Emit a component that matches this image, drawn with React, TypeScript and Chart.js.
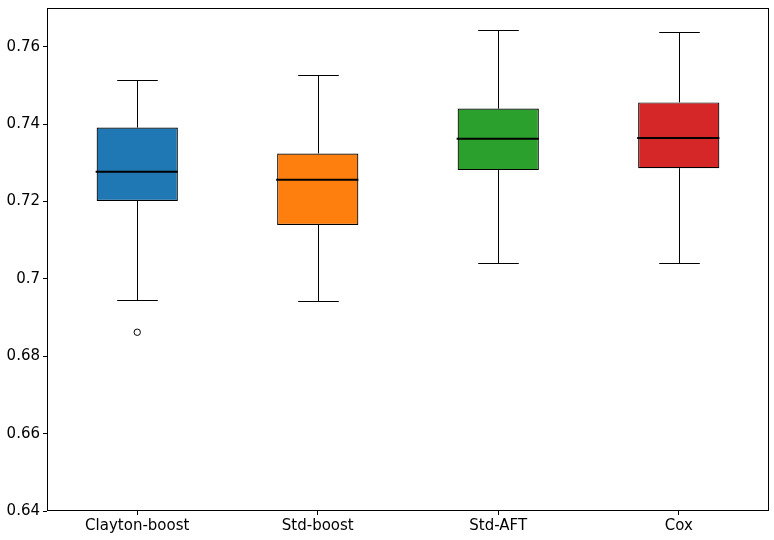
import React, { useEffect, useRef } from "react";
import { Chart, registerables } from "chart.js";

Chart.register(...registerables);

const categories = ["Clayton-boost", "Std-boost", "Std-AFT", "Cox"];
const whiskerLow = [0.6945, 0.6943, 0.7040, 0.7042];
const q1 = [0.7201, 0.7139, 0.7281, 0.7286];
const median = [0.7277, 0.7256, 0.7362, 0.7364];
const q3 = [0.7391, 0.7324, 0.7440, 0.7456];
const whiskerHigh = [0.7515, 0.7526, 0.7642, 0.7639];
const outliers = [0.6862, null, null, null];
const boxColors = ["#1f77b4", "#ff7f0e", "#2ca02c", "#d62728"];
const yTicks = [0.64, 0.66, 0.68, 0.7, 0.72, 0.74, 0.76];
const yMin = 0.64;
const yMax = 0.77;

const FONT = "'DejaVu Sans', sans-serif";

const boxPlugin = {
  id: "boxExtras",
  beforeDatasetsDraw(chart: any) {
    const { ctx } = chart;
    const x = chart.scales.x;
    const y = chart.scales.y;
    const meta = chart.getDatasetMeta(0);
    ctx.save();
    ctx.strokeStyle = "#000";
    ctx.lineWidth = 1;
    categories.forEach((_, i) => {
      const cx = Math.round(x.getPixelForValue(i)) + 0.5;
      const bw = meta.data[i] ? meta.data[i].width : 80;
      const capHalf = bw / 4;
      const yl = Math.round(y.getPixelForValue(whiskerLow[i])) + 0.5;
      const yq1 = y.getPixelForValue(q1[i]);
      const yq3 = y.getPixelForValue(q3[i]);
      const yh = Math.round(y.getPixelForValue(whiskerHigh[i])) + 0.5;
      ctx.beginPath();
      ctx.moveTo(cx, yq1);
      ctx.lineTo(cx, yl);
      ctx.moveTo(cx - capHalf, yl);
      ctx.lineTo(cx + capHalf, yl);
      ctx.moveTo(cx, yq3);
      ctx.lineTo(cx, yh);
      ctx.moveTo(cx - capHalf, yh);
      ctx.lineTo(cx + capHalf, yh);
      ctx.stroke();
    });
    ctx.restore();
  },
  afterDatasetsDraw(chart: any) {
    const { ctx } = chart;
    const x = chart.scales.x;
    const y = chart.scales.y;
    const meta = chart.getDatasetMeta(0);
    ctx.save();
    ctx.strokeStyle = "#000";
    ctx.lineWidth = 2;
    categories.forEach((_, i) => {
      const cx = x.getPixelForValue(i);
      const bw = meta.data[i] ? meta.data[i].width : 80;
      const ym = y.getPixelForValue(median[i]);
      ctx.beginPath();
      ctx.moveTo(cx - bw / 2 - 1, ym);
      ctx.lineTo(cx + bw / 2, ym);
      ctx.stroke();
    });
    ctx.restore();
  },
  afterDraw(chart: any) {
    const { ctx, chartArea } = chart;
    ctx.save();
    ctx.strokeStyle = "#000";
    ctx.lineWidth = 1;
    ctx.strokeRect(
      Math.round(chartArea.left) + 0.5,
      Math.round(chartArea.top) + 0.5,
      Math.round(chartArea.right - chartArea.left) - 1,
      Math.round(chartArea.bottom - chartArea.top) - 1
    );
    ctx.restore();
  },
};

export default function App() {
  const ref = useRef<HTMLCanvasElement>(null);
  useEffect(() => {
    if (!ref.current) return;
    const chart = new Chart(ref.current, {
      type: "bar",
      data: {
        labels: categories,
        datasets: [
          {
            type: "bar",
            data: categories.map((_, i) => [q1[i], q3[i]]) as any,
            backgroundColor: boxColors,
            borderColor: "#000",
            borderWidth: 1.2,
            borderSkipped: false,
            barPercentage: 0.45,
            categoryPercentage: 1,
            order: 2,
          } as any,
          {
            type: "line",
            data: outliers as any,
            showLine: false,
            pointStyle: "circle",
            pointRadius: 3.2,
            pointBorderWidth: 1,
            pointBorderColor: "#000",
            pointBackgroundColor: "rgba(0,0,0,0)",
            order: 1,
          } as any,
        ],
      },
      options: {
        animation: false,
        responsive: false,
        maintainAspectRatio: false,
        layout: { padding: { top: 8, right: 4, left: 0, bottom: 0 } },
        plugins: {
          legend: { display: false },
          tooltip: { enabled: false },
        },
        scales: {
          x: {
            type: "category",
            offset: true,
            grid: {
              display: true,
              drawOnChartArea: false,
              drawTicks: true,
              tickLength: 4,
              color: "#000",
              offset: false,
            },
            border: { display: false },
            ticks: {
              color: "#000",
              font: { family: FONT, size: 15 },
              padding: 2,
              maxRotation: 0,
            },
            afterFit(scale: any) {
              scale.height = 29;
              scale.paddingLeft = 0;
              scale.paddingRight = 0;
            },
          },
          y: {
            type: "linear",
            min: yMin,
            max: yMax,
            grid: {
              display: true,
              drawOnChartArea: false,
              drawTicks: true,
              tickLength: 4,
              color: "#000",
            },
            border: { display: false },
            afterBuildTicks(scale: any) {
              scale.ticks = yTicks.map((v) => ({ value: v }));
            },
            ticks: {
              color: "#000",
              font: { family: FONT, size: 15 },
              padding: 3,
              callback: (v: any) => String(+Number(v).toFixed(2)),
            },
            afterFit(scale: any) {
              scale.width = 47;
              scale.paddingTop = 0;
              scale.paddingBottom = 0;
            },
          },
        },
      } as any,
      plugins: [boxPlugin],
    });
    return () => chart.destroy();
  }, []);
  return (
    <div style={{ position: "fixed", left: 0, top: 0, width: 774, height: 540, background: "#fff" }}>
      <canvas ref={ref} width={774} height={540} style={{ width: 774, height: 540 }} />
    </div>
  );
}
